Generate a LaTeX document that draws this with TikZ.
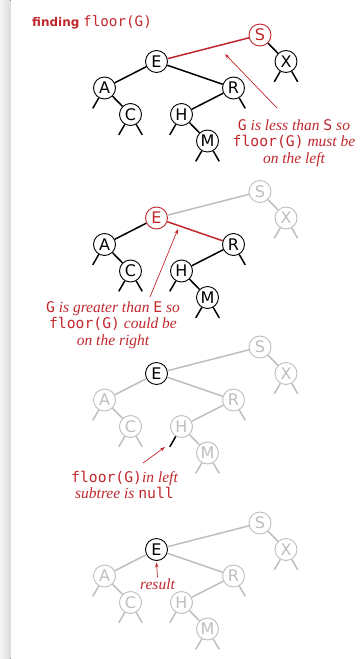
\documentclass[tikz,border=0pt]{standalone}
\usepackage{fontspec}
\setmainfont{Liberation Serif}
\setsansfont{DejaVu Sans}
\setmonofont{DejaVu Sans Mono}[Scale=0.95]
\usetikzlibrary{arrows.meta}

\definecolor{hotred}{RGB}{192,39,45}
\definecolor{dimgray}{RGB}{190,190,192}

\newcommand\code[1]{\texttt{\upshape #1}}

\tikzset{
  ink/.style={draw=black,text=black},
  hot/.style={draw=hotred,text=hotred},
  dim/.style={draw=dimgray,text=dimgray},
  key/.style={circle,fill=white,minimum size=22pt,inner sep=0pt,line width=0.9pt,
    font=\sffamily\fontsize{16}{16}\selectfont},
  link/.style={line width=1.5pt},
  note/.style={text=hotred,align=center,font=\itshape\fontsize{15.5}{16.7}\selectfont},
  pointer/.style={draw=hotred,line width=0.7pt,-{Stealth[length=5pt,width=3.5pt]}},
  % colour of every key (k..), of the link into it (l..) and of the null links of H (sH)
  kS/.style={ink}, kE/.style={ink}, kX/.style={ink}, kA/.style={ink},
  kR/.style={ink}, kC/.style={ink}, kH/.style={ink}, kM/.style={ink},
  lE/.style={kS}, lX/.style={kX}, lA/.style={kA}, lR/.style={kR},
  lC/.style={kC}, lH/.style={kH}, lM/.style={kM}, sH/.style={kH},
  faded/.style={kS/.style={dim}, kE/.style={dim}, kX/.style={dim}, kA/.style={dim},
    kR/.style={dim}, kC/.style={dim}, kH/.style={dim}, kM/.style={dim}},
}

% #1 = name prefix, #2 = y of the root
\newcommand\bsttree[2]{%
  \begin{scope}[shift={(0,#2)}]
    \node[key,kS] (#1S) at (260,0) {S};
    \node[key,kE] (#1E) at (156.5,26.5) {E};
    \node[key,kX] (#1X) at (286,26.5) {X};
    \node[key,kA] (#1A) at (104.5,53) {A};
    \node[key,kR] (#1R) at (233.5,53) {R};
    \node[key,kC] (#1C) at (130.5,79.5) {C};
    \node[key,kH] (#1H) at (181.5,79.5) {H};
    \node[key,kM] (#1M) at (207.5,106) {M};
    % links
    \draw[link,lE] (#1S) -- (#1E);
    \draw[link,lX] (#1S) -- (#1X);
    \draw[link,lA] (#1E) -- (#1A);
    \draw[link,lR] (#1E) -- (#1R);
    \draw[link,lC] (#1A) -- (#1C);
    \draw[link,lH] (#1R) -- (#1H);
    \draw[link,lM] (#1H) -- (#1M);
    % null links
    \draw[link,kA] (#1A.240) -- ++(240:12pt);
    \draw[link,kC] (#1C.240) -- ++(240:12pt);
    \draw[link,kC] (#1C.300) -- ++(300:12pt);
    \draw[link,sH] (#1H.240) -- ++(240:12pt);
    \draw[link,kM] (#1M.240) -- ++(240:12pt);
    \draw[link,kM] (#1M.300) -- ++(300:12pt);
    \draw[link,kR] (#1R.300) -- ++(300:12pt);
    \draw[link,kX] (#1X.240) -- ++(240:12pt);
    \draw[link,kX] (#1X.300) -- ++(300:12pt);
  \end{scope}}

\begin{document}
\begin{tikzpicture}[x=1pt,y=-1pt]
  \useasboundingbox (0,0) rectangle (360,659);
  % page margin
  \fill[left color=black!4,right color=black!14] (0,0) rectangle (10.5,659);

  \node[anchor=base west,text=hotred,font=\fontsize{15}{18}\selectfont,inner sep=0pt] (title) at (32,26)
    {{\sffamily\bfseries\fontsize{12}{14}\selectfont finding} \code{floor(G)}};

  % step 1: go left at S
  \begin{scope}[kS/.style={hot}]
    \bsttree{a}{35}
  \end{scope}
  \node[note] (why1) at (294,143) {\code{G} is less than \code{S} so\\\code{floor(G)} must be\\on the left};
  \coordinate (tail1) at (277,108);
  \coordinate (tip1) at (225,54);
  \draw[pointer] (tail1) -- (tip1);

  % step 2: go right at E
  \begin{scope}[kS/.style={dim},kX/.style={dim},kE/.style={hot},lR/.style={hot}]
    \bsttree{b}{191.5}
  \end{scope}
  \node[note] (why2) at (113,325) {\code{G} is greater than \code{E} so\\\code{floor(G)} could be\\on the right};
  \coordinate (tail2) at (150,297);
  \coordinate (tip2) at (178,229);
  \draw[pointer] (tail2) -- (tip2);

  % step 3: left subtree of H is empty
  \begin{scope}[faded,kE/.style={ink},sH/.style={ink}]
    \bsttree{c}{347}
  \end{scope}
  \node[note] (why3) at (124.5,485) {\code{floor(G)}in left\\subtree is \code{null}};
  \coordinate (tail3) at (143,463);
  \coordinate (tip3) at (165,447);
  \draw[pointer] (tail3) -- (tip3);

  % step 4: E is the floor
  \begin{scope}[faded,kE/.style={ink}]
    \bsttree{d}{523}
  \end{scope}
  \node[note,inner sep=1pt] (res) at (157.5,584) {result};
  \draw[pointer] (res.north) -- ([yshift=-1.5pt]dE.south);
\end{tikzpicture}
\end{document}
